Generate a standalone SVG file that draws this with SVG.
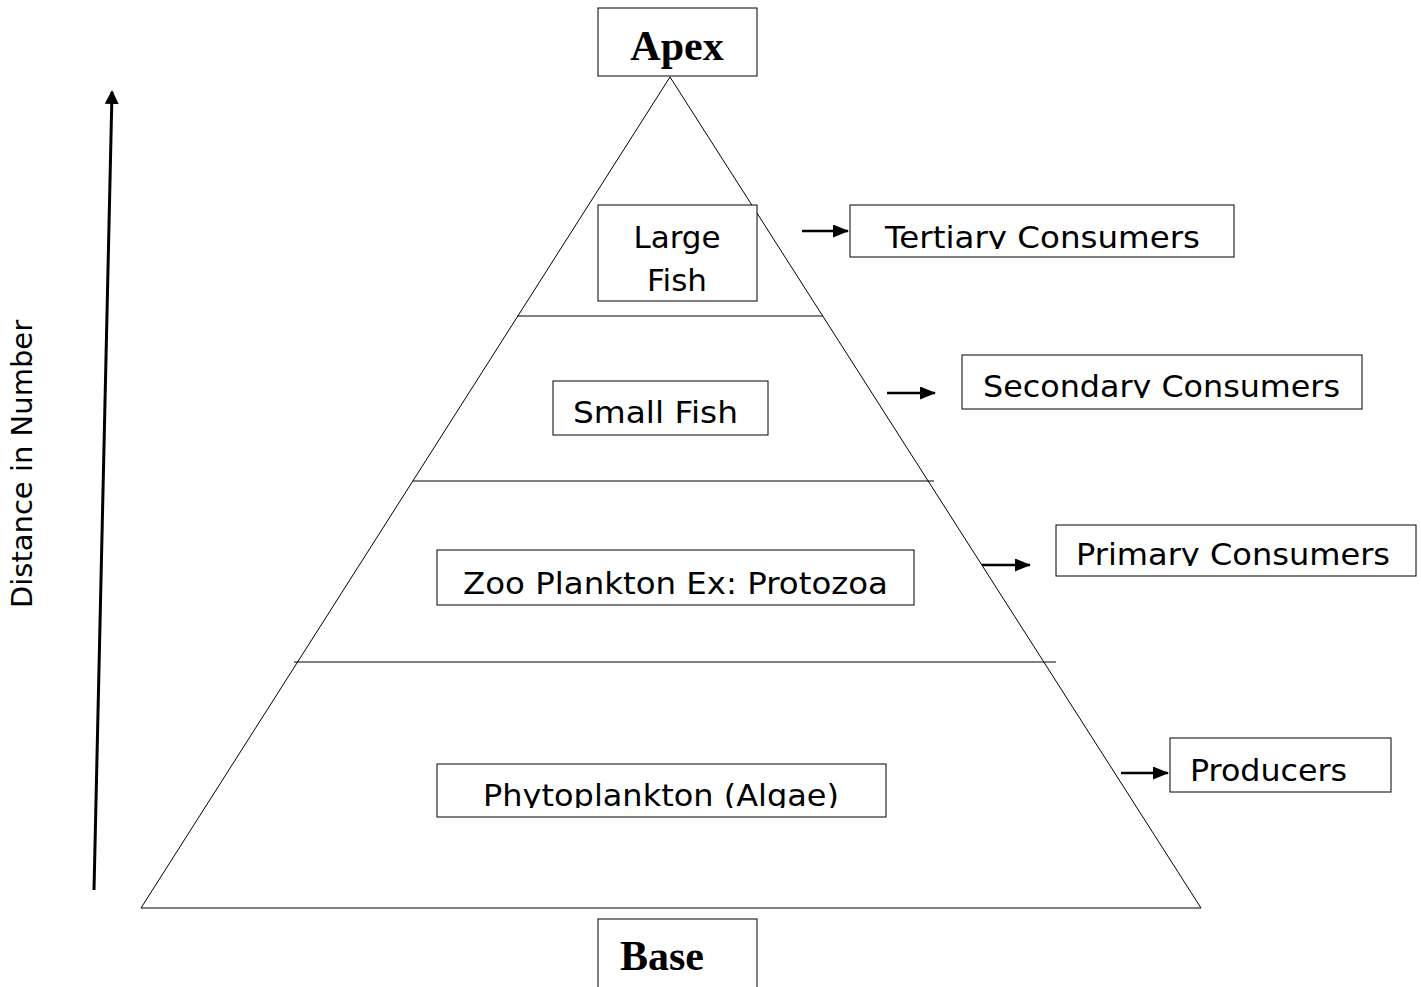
<svg xmlns="http://www.w3.org/2000/svg" width="1421" height="987" viewBox="0 0 1421 987">
<style>
.box{fill:#fff;stroke:#000;stroke-width:1}
.lbl{font-family:"DejaVu Sans",Verdana,sans-serif;font-size:31px;fill:#000}
.ttl{font-family:"Liberation Serif","Times New Roman",serif;font-size:42px;font-weight:bold;fill:#000}
.ln{stroke:#000;stroke-width:1;fill:none}
.arr{stroke:#000;stroke-width:2.5;fill:none}
</style>
<defs>
<marker id="ah" markerWidth="16" markerHeight="13" refX="15" refY="6.5" orient="auto" markerUnits="userSpaceOnUse" viewBox="0 0 16 13">
<path d="M0,0 L16,6.5 L0,13 z" fill="#000"/>
</marker>
<marker id="ah2" markerWidth="14" markerHeight="14" refX="12" refY="7" orient="auto" markerUnits="userSpaceOnUse" viewBox="0 0 14 14">
<path d="M0,0 L14,7 L0,14 z" fill="#000"/>
</marker>
<clipPath id="cT"><rect x="850" y="205" width="384" height="44"/></clipPath>
<clipPath id="cS"><rect x="962" y="355" width="400" height="43"/></clipPath>
<clipPath id="cP"><rect x="1056" y="525" width="360" height="41"/></clipPath>
<clipPath id="cA"><rect x="437" y="764" width="449" height="44"/></clipPath>
</defs>
<g id="pyramid">
<path class="ln" d="M670,77 L141,908 L1201,908 Z"/>
<line class="ln" x1="517" y1="316" x2="823" y2="316"/>
<line class="ln" x1="413" y1="481" x2="934" y2="481"/>
<line class="ln" x1="294" y1="662" x2="1056" y2="662"/>
</g>
<g id="apex"><rect class="box" x="598" y="8" width="159" height="68"/><text class="ttl" x="677" y="60" text-anchor="middle">Apex</text></g>
<g id="base"><rect class="box" x="598" y="919" width="159" height="80"/><text class="ttl" x="620" y="970">Base</text></g>
<g id="large-fish"><rect class="box" x="598" y="205" width="159" height="96"/><text class="lbl" x="677" y="248" text-anchor="middle">Large</text><text class="lbl" x="677" y="291" text-anchor="middle">Fish</text></g>
<g id="small-fish"><rect class="box" x="553" y="381" width="215" height="54"/><text class="lbl" x="573" y="423" textLength="165" lengthAdjust="spacingAndGlyphs">Small Fish</text></g>
<g id="zoo"><rect class="box" x="437" y="550" width="477" height="55"/><text class="lbl" x="463" y="594" textLength="425" lengthAdjust="spacingAndGlyphs">Zoo Plankton Ex: Protozoa</text></g>
<g id="phyto"><rect class="box" x="437" y="764" width="449" height="53"/><text class="lbl" x="483" y="806" clip-path="url(#cA)" textLength="356" lengthAdjust="spacingAndGlyphs">Phytoplankton (Algae)</text></g>
<g id="tertiary"><rect class="box" x="850" y="205" width="384" height="52"/><text class="lbl" x="885" y="248" clip-path="url(#cT)" textLength="315" lengthAdjust="spacingAndGlyphs">Tertiary Consumers</text></g>
<g id="secondary"><rect class="box" x="962" y="355" width="400" height="54"/><text class="lbl" x="983" y="397" clip-path="url(#cS)" textLength="357" lengthAdjust="spacingAndGlyphs">Secondary Consumers</text></g>
<g id="primary"><rect class="box" x="1056" y="525" width="360" height="51"/><text class="lbl" x="1076" y="565" clip-path="url(#cP)" textLength="314" lengthAdjust="spacingAndGlyphs">Primary Consumers</text></g>
<g id="producers"><rect class="box" x="1170" y="738" width="221" height="54"/><text class="lbl" x="1190" y="781" textLength="157" lengthAdjust="spacingAndGlyphs">Producers</text></g>
<g id="axis-label"><text class="lbl" style="font-size:29px" transform="translate(32,464) rotate(-90)" text-anchor="middle">Distance in Number</text></g>
<g id="connectors">
<line class="arr" x1="802" y1="231" x2="848" y2="231" marker-end="url(#ah)"/>
<line class="arr" x1="887" y1="393" x2="935" y2="393" marker-end="url(#ah)"/>
<line class="arr" x1="982" y1="565" x2="1030" y2="565" marker-end="url(#ah)"/>
<line class="arr" x1="1121" y1="773" x2="1168" y2="773" marker-end="url(#ah)"/>
<line x1="94" y1="890" x2="112" y2="92" stroke="#000" stroke-width="3" marker-end="url(#ah2)"/>
</g>
</svg>
